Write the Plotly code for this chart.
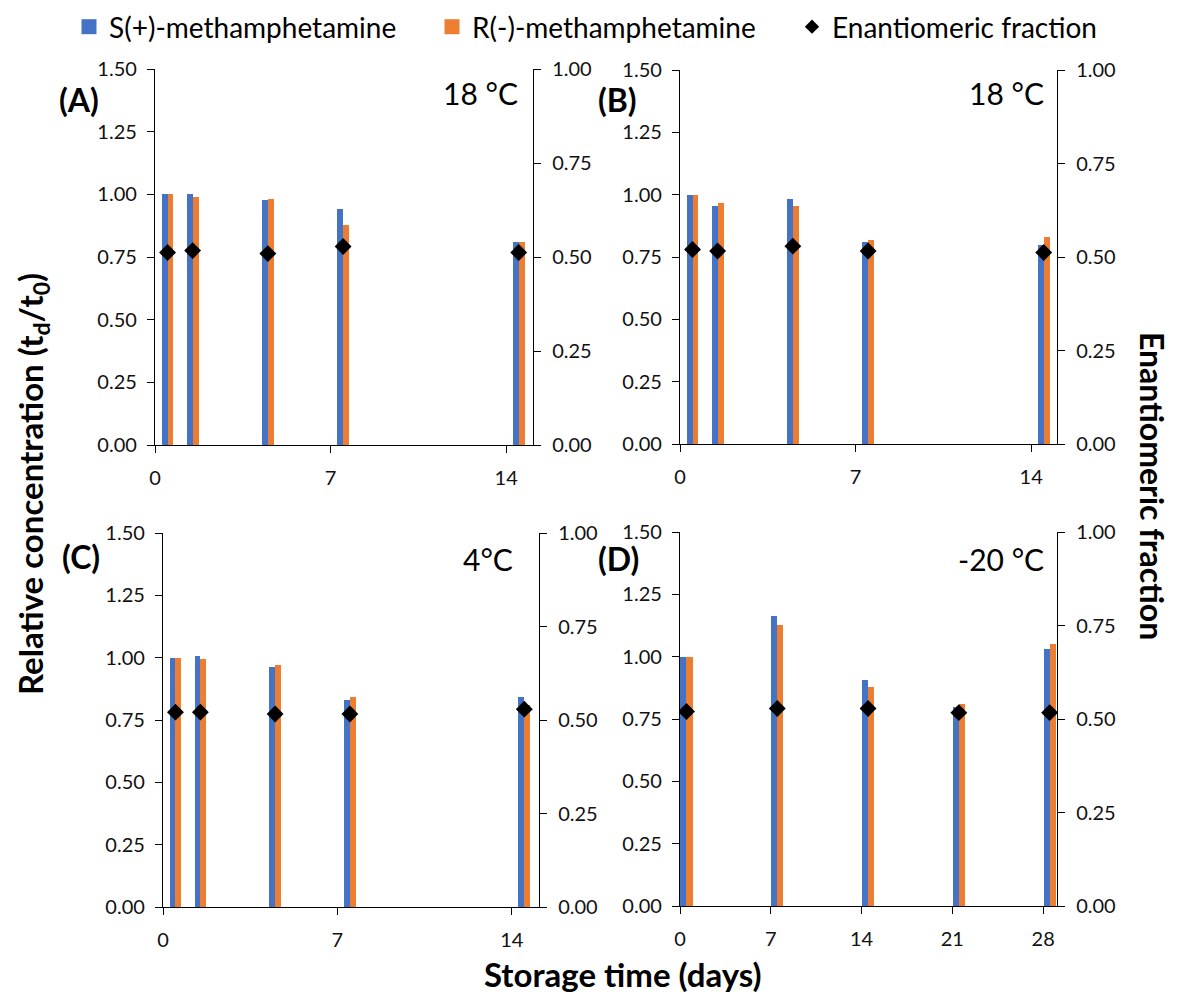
import plotly.graph_objects as go

# ---------------- data ----------------
days_abc = [0, 1, 4, 7, 14]
days_d = [0, 7, 14, 21, 28]
ticks_abc = [0, 7, 14]
ticks_d = [0, 7, 14, 21, 28]

A_S = [1.00, 1.00, 0.976, 0.94, 0.81]
A_R = [1.00, 0.99, 0.983, 0.876, 0.81]
A_EF = [0.512, 0.517, 0.509, 0.528, 0.512]

B_S = [1.00, 0.955, 0.984, 0.81, 0.80]
B_R = [1.00, 0.966, 0.955, 0.818, 0.83]
B_EF = [0.520, 0.516, 0.529, 0.516, 0.512]

C_S = [1.00, 1.008, 0.961, 0.83, 0.842]
C_R = [1.00, 0.996, 0.971, 0.842, 0.811]
C_EF = [0.521, 0.521, 0.516, 0.516, 0.529]

D_S = [1.00, 1.163, 0.906, 0.799, 1.032]
D_R = [1.00, 1.127, 0.878, 0.811, 1.05]
D_EF = [0.520, 0.528, 0.528, 0.517, 0.517]

series_names = ["S(+)-methamphetamine", "R(-)-methamphetamine", "Enantiomeric fraction"]
panel_labels = ["(A)", "(B)", "(C)", "(D)"]
temp_labels = ["18 °C", "18 °C", "4°C", "-20 °C"]
left_ticks = [0, 0.25, 0.5, 0.75, 1.0, 1.25, 1.5]
right_ticks = [0, 0.25, 0.5, 0.75, 1.0]

# ---------------- layout geometry (page pixels) ----------------
PAGE_W, PAGE_H = 1181, 1001
BODY = 8                      # default body margin of the html page
FW, FH = PAGE_W - 2 * BODY, PAGE_H - 2 * BODY
FONT = "Lato"
BLUE = "#4472C4"
ORANGE = "#ED7D31"

def px(x):
    return (x - BODY) / FW

def py(y):
    return 1 - (y - BODY) / FH

panels = [
    dict(days=days_abc, S=A_S, R=A_R, EF=A_EF, ticks=ticks_abc, xr=[-0.5, 14.57], bw=0.235,
         box=(155, 533, 69, 445), lab=(79, 100), temp=(520, 93)),
    dict(days=days_abc, S=B_S, R=B_R, EF=B_EF, ticks=ticks_abc, xr=[-0.5, 14.53], bw=0.235,
         box=(680, 1057, 70, 444), lab=(617, 100), temp=(1046, 93)),
    dict(days=days_abc, S=C_S, R=C_R, EF=C_EF, ticks=ticks_abc, xr=[-0.5, 14.59], bw=0.235,
         box=(163, 539, 533, 907), lab=(81, 556), temp=(515, 559)),
    dict(days=days_d, S=D_S, R=D_R, EF=D_EF, ticks=ticks_d, xr=[-0.5, 28.57], bw=0.47,
         box=(680, 1057, 532, 906), lab=(618, 558), temp=(1046, 559)),
]

fig = go.Figure()
layout = {}
annotations = []

tickfont = dict(family=FONT, size=20, color="#111111")

for i, p in enumerate(panels):
    xa = "x" if i == 0 else f"x{i+1}"
    yl_n = 2 * i + 1
    yr_n = 2 * i + 2
    yl = "y" if yl_n == 1 else f"y{yl_n}"
    yr = f"y{yr_n}"
    fig.add_trace(go.Bar(
        x=p["days"], y=p["S"], xaxis=xa, yaxis=yl, name=series_names[0],
        marker=dict(color=BLUE, line=dict(width=0)), width=p["bw"], offset=-p["bw"],
        showlegend=False, legendgroup="S"))
    fig.add_trace(go.Bar(
        x=p["days"], y=p["R"], xaxis=xa, yaxis=yl, name=series_names[1],
        marker=dict(color=ORANGE, line=dict(width=0)), width=p["bw"], offset=0,
        showlegend=False, legendgroup="R"))
    fig.add_trace(go.Scatter(
        x=p["days"], y=p["EF"], xaxis=xa, yaxis=yr, name=series_names[2],
        mode="markers", marker=dict(symbol="diamond", size=13, color="black"),
        showlegend=False, legendgroup="EF"))

    x0, x1, y0, y1 = p["box"]
    xkey = "xaxis" if i == 0 else f"xaxis{i+1}"
    ylkey = "yaxis" if yl_n == 1 else f"yaxis{yl_n}"
    yrkey = f"yaxis{yr_n}"
    common = dict(showline=True, linecolor="black", linewidth=1.3, ticks="outside",
                  ticklen=7, tickcolor="black", tickwidth=1.3, showgrid=False,
                  zeroline=False, tickfont=tickfont, automargin=False, fixedrange=True)
    layout[xkey] = dict(
        domain=[px(x0), px(x1)], anchor=yl, range=p["xr"],
        tickvals=[t - 0.5 for t in p["ticks"]], ticktext=[str(t) for t in p["ticks"]],
        ticklabelstandoff=8, **common)
    layout[ylkey] = dict(
        domain=[py(y1), py(y0)], anchor=xa, range=[0, 1.5], tickvals=left_ticks,
        tickformat=".2f", ticklabelstandoff=6, **common)
    layout[yrkey] = dict(
        domain=[py(y1), py(y0)], anchor=xa, overlaying=yl, side="right", range=[0, 1],
        tickvals=right_ticks, tickformat=".2f", ticklabelstandoff=7, **common)

    lx, ly = p["lab"]
    annotations.append(dict(
        text=panel_labels[i], x=px(lx), y=py(ly), xref="paper", yref="paper",
        xanchor="center", yanchor="middle", showarrow=False,
        font=dict(family=FONT, size=32, color="black", weight=700)))
    tx, ty = p["temp"]
    annotations.append(dict(
        text=temp_labels[i], x=px(tx), y=py(ty), xref="paper", yref="paper",
        xanchor="right", yanchor="middle", showarrow=False,
        font=dict(family=FONT, size=30, color="black")))

# legend proxies: one entry per series, each in its own legend box
legend_markers = [dict(symbol="square", size=15, color=BLUE),
                  dict(symbol="square", size=15, color=ORANGE),
                  dict(symbol="diamond", size=11, color="black")]
legend_ids = ["legend", "legend2", "legend3"]
legend_x = [69, 432, 792]
for name, mk, lid in zip(series_names, legend_markers, legend_ids):
    fig.add_trace(go.Scatter(x=[None], y=[None], mode="markers", name=name,
                             marker=mk, showlegend=True, legend=lid))
legend_layout = {}
for lid, lx in zip(legend_ids, legend_x):
    legend_layout[lid] = dict(
        orientation="h", x=px(lx), y=py(27), xanchor="left", yanchor="middle",
        font=dict(family=FONT, size=28, color="black"), bgcolor="rgba(0,0,0,0)",
        itemwidth=30)

title_font = dict(family=FONT, size=33, color="black", weight=700)
annotations.append(dict(
    text="Relative concentration (t<sub>d</sub>/t<sub>0</sub>)", x=px(32), y=py(484),
    xref="paper", yref="paper", xanchor="center", yanchor="middle", textangle=-90,
    showarrow=False, font=title_font))
annotations.append(dict(
    text="Enantiomeric fraction", x=px(1153), y=py(486), xref="paper", yref="paper",
    xanchor="center", yanchor="middle", textangle=90, showarrow=False,
    font=dict(family=FONT, size=32, color="black", weight=700), borderpad=0))
annotations.append(dict(
    text="Storage time (days)", x=px(623), y=0, xref="paper", yref="paper",
    xanchor="center", yanchor="bottom", yshift=-3, showarrow=False, font=title_font))

fig.update_layout(
    width=FW, height=FH, margin=dict(l=0, r=0, t=0, b=0, autoexpand=False),
    paper_bgcolor="white", plot_bgcolor="white",
    barmode="overlay", bargap=0,
    font=dict(family=FONT, color="black"),
    annotations=annotations,
    **legend_layout,
    **layout,
)

fig.write_html("out.html")
